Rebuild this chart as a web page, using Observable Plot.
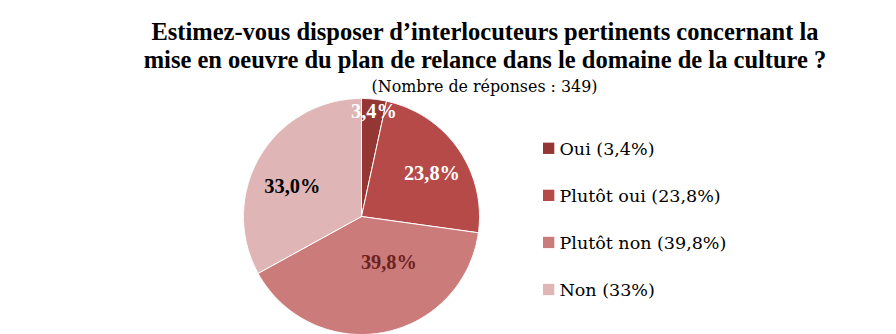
<!DOCTYPE html>
<html>
<head>
<meta charset="utf-8">
<script src="https://cdn.jsdelivr.net/npm/d3@7"></script>
<script src="https://cdn.jsdelivr.net/npm/@observablehq/plot@0.6"></script>
<style>
  html, body { margin: 0; padding: 0; background: #fff; }
  svg { display: block; }
</style>
</head>
<body>
<div id="chart"></div>
<script>
// ---- Data ----
const categories = ["Oui", "Plutôt oui", "Plutôt non", "Non"];
const values = [3.4, 23.8, 39.8, 33.0];
const sliceLabels = ["3,4%", "23,8%", "39,8%", "33,0%"];
const legendLabels = ["Oui (3,4%)", "Plutôt oui (23,8%)", "Plutôt non (39,8%)", "Non (33%)"];
const colors = ["#943634", "#B54A48", "#CB7B7A", "#DFB6B5"];
const labelColors = ["#ffffff", "#ffffff", "#6B2321", "#000000"];
const titleLines = [
  "Estimez-vous disposer d’interlocuteurs pertinents concernant la",
  "mise en oeuvre du plan de relance dans le domaine de la culture ?"
];
const subtitle = "(Nombre de réponses : 349)";

// ---- Layout ----
const W = 896, H = 334;
const cx = 361, cy = 216, R = 118;
const titleFont = "'Liberation Serif', serif";
const bodyFont = "'DejaVu Serif', serif";

// fit font sizes to target widths
const ctx = document.createElement("canvas").getContext("2d");
function fit(text, family, weight, target) {
  ctx.font = `${weight} 100px ${family}`;
  return 100 * target / ctx.measureText(text).width;
}
const titleSize = fit(titleLines[1], titleFont, "bold", 683);
const subSize = fit(subtitle, bodyFont, "normal", 226);
const legendSize = fit(legendLabels[2], bodyFont, "normal", 167);
const labelSize = fit(sliceLabels[1], titleFont, "bold", 56);

const pie = d3.pie().sort(null).value(d => d.value)(
  categories.map((c, i) => ({category: c, value: values[i], i}))
);

// polygon points for each slice (sampled arcs)
const slicePts = [];
for (const p of pie) {
  const c = p.data.category;
  slicePts.push({category: c, x: cx, y: cy});
  const n = Math.max(2, Math.ceil((p.endAngle - p.startAngle) / 0.01));
  for (let k = 0; k <= n; k++) {
    const a = p.startAngle + (p.endAngle - p.startAngle) * k / n;
    slicePts.push({category: c, x: cx + R * Math.sin(a), y: cy - R * Math.cos(a)});
  }
  slicePts.push({category: c, x: cx, y: cy});
}

// label positions relative to slice mid-angle
const labelRadii = [0.9, 0.70, 0.45, 0.64];
const labelAngleShift = [0.01, 0.06, -0.36, -0.12];
const labelData = pie.map((p, i) => {
  const a = (p.startAngle + p.endAngle) / 2 + labelAngleShift[i];
  const r = R * labelRadii[i];
  return {text: sliceLabels[i], color: labelColors[i], x: cx + r * Math.sin(a), y: cy - r * Math.cos(a)};
});

const legendData = categories.map((c, i) => ({category: c, label: legendLabels[i], i}));
const lx = 543, ly0 = 148.3, lstep = 47.07, sq = 11.3;

const chart = Plot.plot({
  width: W, height: H,
  margin: 0,
  x: {domain: [0, W], range: [0, W], axis: null},
  y: {domain: [0, H], range: [0, H], axis: null},
  color: {domain: categories, range: colors},
  style: {fontFamily: bodyFont, background: "#fff"},
  marks: [
    Plot.line(slicePts, {x: "x", y: "y", z: "category", fill: "category", stroke: "#fff", strokeWidth: 1, curve: "linear"}),
    Plot.text(labelData, {x: "x", y: "y", text: "text", fill: "color", fontSize: labelSize, fontWeight: "bold", fontFamily: titleFont}),
    // title (baselines)
    Plot.text(titleLines, {x: () => 484.5, y: (d, i) => 39 + i * 28, text: d => d, lineAnchor: "bottom", fontSize: titleSize, fontWeight: "bold", fill: "#000", fontFamily: titleFont}),
    Plot.text([subtitle], {x: () => 484, y: () => 91, text: d => d, lineAnchor: "bottom", fontSize: subSize, fill: "#000", fontFamily: bodyFont}),
    // legend
    Plot.rect(legendData, {x1: () => lx, x2: () => lx + sq, y1: d => ly0 + d.i * lstep - sq / 2, y2: d => ly0 + d.i * lstep + sq / 2, fill: "category"}),
    Plot.text(legendData, {x: () => 559, y: d => ly0 + d.i * lstep + 6, text: "label", textAnchor: "start", lineAnchor: "bottom", fontSize: legendSize, fill: "#000", fontFamily: bodyFont})
  ]
});
document.getElementById("chart").appendChild(chart);
</script>
</body>
</html>
